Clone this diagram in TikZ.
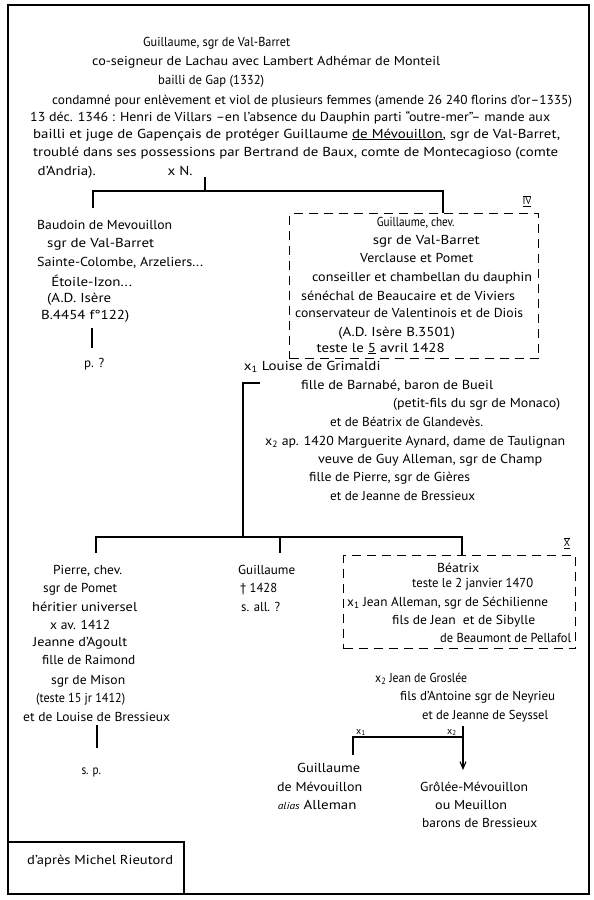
\documentclass[tikz,border=0pt]{standalone}
\usepackage{fontspec}
\usepackage{graphicx}
\setmainfont{PT Sans}
\usetikzlibrary{arrows.meta}
\newsavebox\fwbox
\newcommand{\fw}[2]{\sbox\fwbox{#2}%
  \pgfmathsetmacro\fwr{max(0.86,min(1.15,#1/\the\wd\fwbox))}%
  \makebox[#1pt]{\scalebox{\fwr}[1]{\usebox\fwbox}}}
\begin{document}
\begin{tikzpicture}[x=1pt,y=-1pt,
  txt/.style={anchor=base west, inner sep=0pt, font=\fontsize{13}{15}\selectfont},
  sml/.style={anchor=base west, inner sep=0pt, font=\fontsize{10}{11}\selectfont},
  ln/.style={line width=1.1pt},
  dbox/.style={draw, line width=1.1pt, dash pattern=on 9pt off 6pt, inner sep=0pt, anchor=north west},
  frame/.style={line width=1.4pt},
  roman/.style={inner sep=0pt, font=\fontsize{10}{11}\selectfont}]
\useasboundingbox (0,0) rectangle (594,900);
% outer frame
\draw[frame] (8,5) rectangle (589,894);
% header
\node[txt] (h1) at (143,46) {\fw{147}{Guillaume, sgr de Val-Barret}};
\node[txt] (h2) at (92,65) {\fw{348}{co-seigneur de Lachau avec Lambert Adhémar de Monteil}};
\node[txt] (h3) at (158,84) {\fw{106}{bailli de Gap (1332)}};
\node[txt] (h4) at (52,104) {\fw{520}{condamné pour enlèvement et viol de plusieurs femmes (amende 26 240 florins d'or–1335)}};
\node[txt] (h5) at (30,121) {\fw{520}{13 déc. 1346 : Henri de Villars –en l'absence du Dauphin parti “outre-mer”– mande aux}};
\node[txt] (h6) at (33,138) {\fw{527}{bailli et juge de Gapençais de protéger Guillaume \underline{de Mévouillon}, sgr de Val-Barret,}};
\node[txt] (h7) at (33,156) {\fw{525}{troublé dans ses possessions par Bertrand de Baux, comte de Montecagioso (comte}};
\node[txt] (h8) at (33,175) {\fw{67}{d'Andria).}};
\node[txt] (xN) at (165,175) {\fw{30}{x N.}};
% first branching
\coordinate (nA) at (205,177);
\coordinate (jA) at (205,191);
\coordinate (lA) at (93,208);
\coordinate (rA) at (443,213);
\draw[ln] (nA) -- (jA);
\draw[ln] (lA) -- (lA |- jA) -- (rA |- jA) -- (rA);
% Baudoin
\node[txt] (b1) at (37,229) {\fw{135}{Baudoin de Mevouillon}};
\node[txt] (b2) at (43,247) {\fw{115}{sgr de Val-Barret}};
\node[txt] (b3) at (37,266) {\fw{166}{Sainte-Colombe, Arzeliers...}};
\node[txt] (b4) at (45,286) {\fw{93}{Étoile-Izon...}};
\node[txt] (b5) at (45,302) {\fw{68}{(A.D. Isère}};
\node[txt] (b6) at (37,319) {\fw{96}{B.4454 f°122)}};
\coordinate (pA) at (92,328);
\coordinate (pB) at (92,348);
\draw[ln] (pA) -- (pB);
\node[txt] (p1) at (84,367) {\fw{20}{p. ?}};
% box IV
\node[dbox, minimum width=249pt, minimum height=145pt] (boxIV) at (289,213) {};
\node[roman] (rIV) at (527,201) {$\overline{\underline{\textrm{IV}}}$};
\node[txt] (g1) at (378,226) {\fw{75}{Guillaume, chev.}};
\node[txt] (g2) at (370,244) {\fw{112}{sgr de Val-Barret}};
\node[txt] (g3) at (360,262) {\fw{113}{Verclause et Pomet}};
\node[txt] (g4) at (312,281) {\fw{220}{conseiller et chambellan du dauphin}};
\node[txt] (g5) at (301,300) {\fw{214}{sénéchal de Beaucaire et de Viviers}};
\node[txt] (g6) at (295,317) {\fw{228}{conservateur de Valentinois et de Diois}};
\node[txt] (g7) at (338,336) {\fw{117}{(A.D. Isère B.3501)}};
\node[txt] (g8) at (313,352) {\fw{135}{teste le \underline{5} avril 1428}};
% marriages
\node[txt] (m1) at (242,370) {\fw{140}{x\textsubscript{1} Louise de Grimaldi}};
\node[txt] (m2) at (301,389) {\fw{192}{fille de Barnabé, baron de Bueil}};
\node[txt] (m3) at (393,407) {\fw{167}{(petit-fils du sgr de Monaco)}};
\node[txt] (m4) at (330,426) {\fw{153}{et de Béatrix de Glandevès.}};
\node[txt] (m5) at (265,445) {\fw{300}{x\textsubscript{2} ap. 1420 Marguerite Aynard, dame de Taulignan}};
\node[txt] (m6) at (318,463) {\fw{224}{veuve de Guy Alleman, sgr de Champ}};
\node[txt] (m7) at (309,481) {\fw{161}{fille de Pierre, sgr de Gières}};
\node[txt] (m8) at (330,500) {\fw{145}{et de Jeanne de Bressieux}};
% second branching
\coordinate (tB) at (260,383);
\coordinate (cB) at (243,383);
\coordinate (jB) at (243,537);
\coordinate (lB) at (96,553);
\coordinate (mB) at (280,553);
\coordinate (rB) at (462,555);
\draw[ln] (tB) -- (cB) -- (jB);
\draw[ln] (lB) -- (lB |- jB) -- (rB |- jB) -- (rB);
\draw[ln] (mB |- jB) -- (mB);
% Pierre
\node[txt] (q1) at (53,574) {\fw{69}{Pierre, chev.}};
\node[txt] (q2) at (43,592) {\fw{74}{sgr de Pomet}};
\node[txt] (q3) at (32,611) {\fw{105}{héritier universel}};
\node[txt] (q4) at (50,629) {\fw{60}{x av. 1412}};
\node[txt] (q5) at (33,646) {\fw{94}{Jeanne d'Agoult}};
\node[txt] (q6) at (42,664) {\fw{93}{fille de Raimond}};
\node[txt] (q7) at (51,684) {\fw{74}{sgr de Mison}};
\node[txt] (q8) at (36,702) {\fw{89}{(teste 15 jr 1412)}};
\node[txt] (q9) at (23,721) {\fw{147}{et de Louise de Bressieux}};
\coordinate (sA) at (97,725);
\coordinate (sB) at (97,748);
\draw[ln] (sA) -- (sB);
\node[txt] (s1) at (82,774) {\fw{18}{s. p.}};
% Guillaume
\node[txt] (w1) at (238,574) {\fw{57}{Guillaume}};
\node[txt] (w2) at (240,592) {\fw{37}{† 1428}};
\node[txt] (w3) at (241,611) {\fw{39}{s. all. ?}};
% box X
\node[dbox, minimum width=232pt, minimum height=93pt] (boxX) at (343,555) {};
\node[roman] (rX) at (567,543) {$\overline{\underline{\textrm{X}}}$};
\node[txt] (e1) at (437,572) {\fw{42}{Béatrix}};
\node[txt] (e2) at (412,587) {\fw{121}{teste le 2 janvier 1470}};
\node[txt] (e3) at (347,606) {\fw{201}{x\textsubscript{1} Jean Alleman, sgr de Séchilienne}};
\node[txt] (e4) at (392,624) {\fw{143}{fils de Jean\ \ et de Sibylle}};
\node[txt] (e5) at (440,642) {\fw{131}{de Beaumont de Pellafol}};
\node[txt] (f1) at (375,682) {\fw{92}{x\textsubscript{2} Jean de Groslée}};
\node[txt] (f2) at (400,700) {\fw{155}{fils d'Antoine sgr de Neyrieu}};
\node[txt] (f3) at (422,719) {\fw{126}{et de Jeanne de Seyssel}};
% third branching
\coordinate (lC) at (353,755);
\coordinate (jC) at (353,737);
\coordinate (rC) at (463,726);
\coordinate (aC) at (463,770);
\draw[ln] (lC) -- (jC) -- (jC -| rC);
\draw[ln, -{Straight Barb[length=7pt,width=6pt]}] (rC) -- (aC);
\node[sml] (x1) at (356,734) {x\textsubscript{1}};
\node[sml] (x2) at (447,734) {x\textsubscript{2}};
\node[txt] (k1) at (297,772) {\fw{63}{Guillaume}};
\node[txt] (k2) at (277,791) {\fw{85}{de Mévouillon}};
\node[txt] (k3) at (277,809) {\fw{80}{{\itshape\fontsize{10}{11}\selectfont alias} Alleman}};
\node[txt] (v1) at (420,791) {\fw{108}{Grôlée-Mévouillon}};
\node[txt] (v2) at (435,809) {\fw{72}{ou Meuillon}};
\node[txt] (v3) at (422,827) {\fw{115}{barons de Bressieux}};
% credit box
\coordinate (cA) at (8,842);
\coordinate (cC) at (184,894);
\draw[ln] (cA) -- (cA -| cC) -- (cC);
\node[txt] (cr) at (27,864) {\fw{146}{d'après Michel Rieutord}};
\end{tikzpicture}
\end{document}
